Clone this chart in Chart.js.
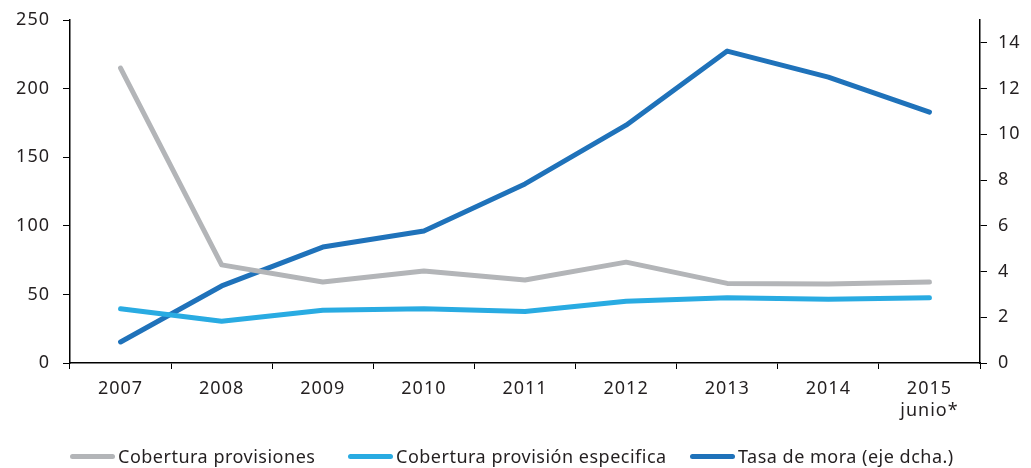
<!DOCTYPE html>
<html><head><meta charset="utf-8">
<script src="https://cdn.jsdelivr.net/npm/chart.js@4"></script>
<style>
html,body{margin:0;padding:0;background:#fff;}
#wrap{position:relative;width:1031px;height:468px;}
#legend{position:absolute;left:70px;top:444px;font-family:"Noto Sans",sans-serif;font-size:18px;letter-spacing:0.5px;color:#231f20;white-space:nowrap;}
.it{position:absolute;top:0;display:flex;align-items:center;height:24px;}
.sw{display:inline-block;width:45px;height:5px;border-radius:3px;margin-right:3px;}
</style></head>
<body><div id="wrap"><canvas id="c" width="1031" height="468"></canvas><div id="legend"></div></div>
<script>
const categories = [['2007'],['2008'],['2009'],['2010'],['2011'],['2012'],['2013'],['2014'],['2015','junio*']];
const coberturaProvisiones = [215, 71.5, 59, 67, 60.5, 73.5, 58, 57.5, 59];
const coberturaEspecifica = [39.5, 30.5, 38.5, 39.5, 37.5, 45, 47.5, 46.5, 47.5];
const tasaMora = [0.92, 3.37, 5.07, 5.77, 7.83, 10.4, 13.64, 12.5, 10.97];
const seriesNames = ['Cobertura provisiones', 'Cobertura provisión especifica', 'Tasa de mora (eje dcha.)'];
const seriesColors = ['#b3b5b8', '#29abe2', '#1f72ba'];

const font = {family: '"Noto Sans", sans-serif', size: 18};
const tickColor = '#231f20';

function setSp(chart) { chart.ctx.letterSpacing = '1px'; }
const spacing = {id: 'spacing', beforeUpdate: setSp, beforeLayout: setSp, beforeDraw: setSp, beforeDatasetsDraw: setSp};

new Chart(document.getElementById('c'), {
  type: 'line',
  plugins: [spacing],
  data: {
    labels: categories,
    datasets: [
      {label: seriesNames[0], data: coberturaProvisiones, borderColor: seriesColors[0], yAxisID: 'y'},
      {label: seriesNames[1], data: coberturaEspecifica, borderColor: seriesColors[1], yAxisID: 'y'},
      {label: seriesNames[2], data: tasaMora, borderColor: seriesColors[2], yAxisID: 'y1'}
    ].map(d => Object.assign(d, {borderWidth: 5, pointRadius: 0, borderCapStyle: 'round', borderJoinStyle: 'round', tension: 0, fill: false}))
  },
  options: {
    responsive: false, animation: false,
    layout: {padding: {left: 0, right: 0, top: 20, bottom: 0}},
    plugins: {legend: {display: false}, tooltip: {enabled: false}},
    scales: {
      x: {
        offset: true,
        grid: {offset: true, drawOnChartArea: false, tickLength: 6, color: '#000', tickColor: '#000'},
        border: {color: '#000', width: 1.5},
        ticks: {font: font, color: tickColor, padding: 9, maxRotation: 0, autoSkip: false},
        afterFit: s => { s.height = 105; s.paddingLeft = 0; s.paddingRight = 0; }
      },
      y: {
        position: 'left', min: 0, max: 250,
        grid: {drawOnChartArea: false, tickLength: 7, color: '#000'},
        border: {color: '#000', width: 1.5},
        ticks: {stepSize: 50, font: font, color: tickColor, padding: 13},
        afterFit: s => { s.width = 70; s.paddingTop = 0; s.paddingBottom = 0; }
      },
      y1: {
        position: 'right', min: 0, max: 15,
        afterBuildTicks: s => { s.ticks = [0,2,4,6,8,10,12,14].map(v => ({value: v})); },
        grid: {drawOnChartArea: false, tickLength: 7, color: '#000'},
        border: {color: '#000', width: 1.5},
        ticks: {font: font, color: tickColor, padding: 11},
        afterFit: s => { s.width = 51; s.paddingTop = 0; s.paddingBottom = 0; }
      }
    }
  }
});

const lg = document.getElementById('legend');
const lefts = [0, 278, 620];
seriesNames.forEach((n, i) => {
  const d = document.createElement('div');
  d.className = 'it';
  d.style.left = lefts[i] + 'px';
  d.innerHTML = '<span class="sw" style="background:' + seriesColors[i] + '"></span><span>' + n + '</span>';
  lg.appendChild(d);
});
</script></body></html>
